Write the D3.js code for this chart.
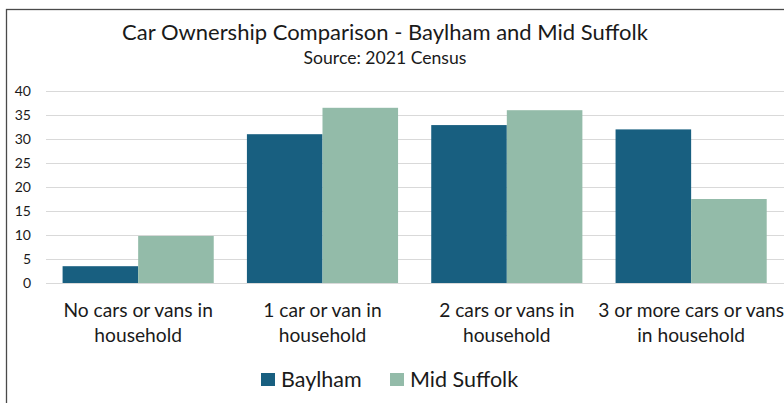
<!DOCTYPE html>
<html>
<head>
<meta charset="utf-8">
<script src="https://cdn.jsdelivr.net/npm/d3@7"></script>
<style>
  html, body { margin: 0; padding: 0; background: #ffffff; }
  svg { display: block; }
  text { font-family: Lato, "Open Sans", sans-serif; fill: #1a1a1a; }
</style>
</head>
<body>
<svg id="chart" width="784" height="403"></svg>
<script>
const categories = [
  ["No cars or vans in", "household"],
  ["1 car or van in", "household"],
  ["2 cars or vans in", "household"],
  ["3 or more cars or vans", "in household"]
];
const seriesNames = ["Baylham", "Mid Suffolk"];
const baylham = [3.5, 31.0, 32.9, 32.0];
const midSuffolk = [9.8, 36.5, 36.0, 17.5];
const yTicks = [0, 5, 10, 15, 20, 25, 30, 35, 40];
const colors = ["#185f80", "#93bba9"];
const title = "Car Ownership Comparison - Baylham and Mid Suffolk";
const subtitle = "Source: 2021 Census";

const svg = d3.select("#chart");
const W = 784, H = 403;

// chart border (extends past the right/bottom edge as in the reference)
svg.append("rect")
  .attr("x", 6.5).attr("y", 9.5)
  .attr("width", 800).attr("height", 420)
  .attr("fill", "#ffffff")
  .attr("stroke", "#4a4a4a").attr("stroke-width", 1.3);

const plot = { left: 46, right: 783.3, top: 91, bottom: 283 };

const catIdx = categories.map((c, i) => i);
const x0 = d3.scaleBand().domain(catIdx).range([plot.left, plot.right])
  .paddingInner(0.18).paddingOuter(0.09);
const x1 = d3.scaleBand().domain([0, 1]).range([0, x0.bandwidth()]);
const y = d3.scaleLinear().domain([0, 40]).range([plot.bottom, plot.top]);

// gridlines
svg.append("g").selectAll("line").data(yTicks).join("line")
  .attr("x1", plot.left).attr("x2", W)
  .attr("y1", d => Math.round(y(d)) + 0.5).attr("y2", d => Math.round(y(d)) + 0.5)
  .attr("stroke", "#d9d9d9").attr("stroke-width", 1);

// y axis labels
const yAxis = d3.axisLeft(y).tickValues(yTicks).tickSize(0).tickPadding(0);
const ya = svg.append("g").attr("transform", `translate(31,0)`).call(yAxis);
ya.select(".domain").remove();
ya.selectAll("text").attr("font-size", 14).attr("font-family", "Lato, sans-serif").attr("fill", "#1a1a1a");

// bars
const data = catIdx.map(i => [baylham[i], midSuffolk[i]]);
const groups = svg.append("g").selectAll("g").data(data).join("g")
  .attr("transform", (d, i) => `translate(${x0(i)},0)`);
groups.selectAll("rect").data(d => d.map((v, s) => ({ v, s }))).join("rect")
  .attr("x", d => x1(d.s))
  .attr("y", d => y(d.v))
  .attr("width", x1.bandwidth())
  .attr("height", d => y(0) - y(d.v))
  .attr("fill", d => colors[d.s]);

// category labels
const labels = svg.append("g").selectAll("text").data(categories).join("text")
  .attr("text-anchor", "middle")
  .attr("font-size", 19.2)
  .attr("x", (d, i) => x0(i) + x0.bandwidth() / 2)
  .attr("y", 316.5);
labels.selectAll("tspan").data(d => d).join("tspan")
  .attr("x", function() { return this.parentNode.getAttribute("x"); })
  .attr("dy", (d, i) => i === 0 ? 0 : 25)
  .text(d => d);

// title
svg.append("text").attr("x", 385).attr("y", 39.5).attr("text-anchor", "middle")
  .attr("font-size", 22).text(title);
svg.append("text").attr("x", 385).attr("y", 63.5).attr("text-anchor", "middle")
  .attr("font-size", 17.6).text(subtitle);

// legend
const legendX = [261, 390];
const lg = svg.append("g").selectAll("g").data(seriesNames).join("g")
  .attr("transform", (d, i) => `translate(${legendX[i]},373)`);
lg.append("rect").attr("width", 14).attr("height", 13).attr("fill", (d, i) => colors[i]);
lg.append("text").attr("x", 20).attr("y", 13.5).attr("font-size", 21.5).text(d => d);
</script>
</body>
</html>
